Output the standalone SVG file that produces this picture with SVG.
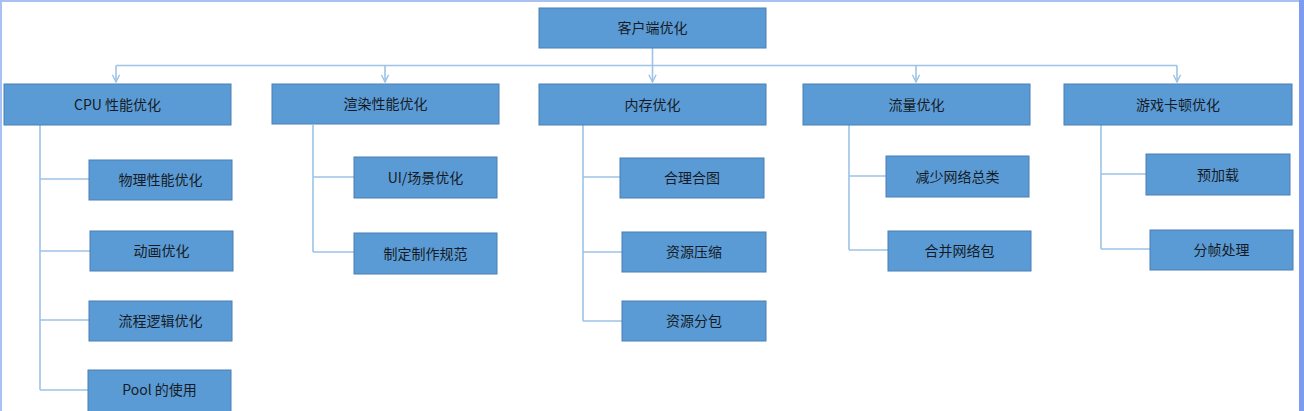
<svg xmlns="http://www.w3.org/2000/svg" width="1304" height="411" viewBox="0 0 1304 411">
<defs>
<style>
.box{fill:#5b9bd5;stroke:#4a7fb5;stroke-width:1}
.lbl{font-family:"Noto Sans CJK SC","Noto Sans",sans-serif;font-size:14px;fill:#151b26;text-anchor:middle;dominant-baseline:central}
.ln{fill:none;stroke:#9dc3e6;stroke-width:1.6}
</style>
<marker id="arr" viewBox="0 0 10 10" refX="9" refY="5" markerWidth="9" markerHeight="9" markerUnits="userSpaceOnUse" orient="auto">
<path d="M1,1 L9,5 L1,9" fill="none" stroke="#9dc3e6" stroke-width="1.6"/>
</marker>
</defs>
<rect x="0" y="0" width="1304" height="411" fill="#ffffff"/>
<g id="frame">
<line x1="0" y1="1" x2="1304" y2="1" stroke="#a9c0f2" stroke-width="2"/>
<line x1="1" y1="0" x2="1" y2="411" stroke="#a9c0f2" stroke-width="2"/>
<rect x="1299" y="0" width="5" height="411" fill="#7c9cf0"/>
</g>
<g id="connectors">
<path class="ln" d="M652.5,48 V82" marker-end="url(#arr)"/>
<path class="ln" d="M116,65.5 H1177"/>
<path class="ln" d="M116,65.5 V82" marker-end="url(#arr)"/>
<path class="ln" d="M385,65.5 V82" marker-end="url(#arr)"/>
<path class="ln" d="M916,65.5 V82" marker-end="url(#arr)"/>
<path class="ln" d="M1177,65.5 V82" marker-end="url(#arr)"/>
<path class="ln" d="M40,125 V390 M40,179 H89 M40,251 H90 M40,320 H89 M40,390 H88"/>
<path class="ln" d="M313,125 V252 M313,177 H354 M313,252 H354"/>
<path class="ln" d="M583,125 V321 M583,177 H620 M583,252 H622 M583,321 H622"/>
<path class="ln" d="M849,125 V250 M849,176 H886 M849,250 H888"/>
<path class="ln" d="M1101,125 V249 M1101,174 H1146 M1101,249 H1150"/>
</g>
<g id="root"><rect class="box" x="539" y="8" width="227" height="40"/><text class="lbl" x="652.5" y="27">客户端优化</text></g>
<g id="cpu"><rect class="box" x="4" y="84" width="227" height="41"/><text class="lbl" x="117.5" y="103.5">CPU 性能优化</text></g>
<g id="render"><rect class="box" x="272" y="84" width="227" height="40"/><text class="lbl" x="385.5" y="103">渲染性能优化</text></g>
<g id="memory"><rect class="box" x="539" y="84" width="227" height="41"/><text class="lbl" x="652.5" y="103.5">内存优化</text></g>
<g id="traffic"><rect class="box" x="803" y="84" width="227" height="41"/><text class="lbl" x="916.5" y="103.5">流量优化</text></g>
<g id="lag"><rect class="box" x="1064" y="84" width="228" height="41"/><text class="lbl" x="1178" y="103.5">游戏卡顿优化</text></g>
<g id="physics"><rect class="box" x="89" y="160" width="143" height="40"/><text class="lbl" x="160.5" y="179">物理性能优化</text></g>
<g id="anim"><rect class="box" x="90" y="231" width="143" height="40"/><text class="lbl" x="161.5" y="250">动画优化</text></g>
<g id="flow"><rect class="box" x="89" y="301" width="143" height="40"/><text class="lbl" x="160.5" y="320">流程逻辑优化</text></g>
<g id="pool"><rect class="box" x="88" y="370" width="143" height="44"/><text class="lbl" x="159.5" y="389">Pool 的使用</text></g>
<g id="ui"><rect class="box" x="354" y="157" width="143" height="41"/><text class="lbl" x="425.5" y="176.5">UI/场景优化</text></g>
<g id="spec"><rect class="box" x="354" y="233" width="143" height="41"/><text class="lbl" x="425.5" y="252.5">制定制作规范</text></g>
<g id="atlas"><rect class="box" x="620" y="158" width="144" height="40"/><text class="lbl" x="692" y="177">合理合图</text></g>
<g id="compress"><rect class="box" x="622" y="232" width="144" height="40"/><text class="lbl" x="694" y="251">资源压缩</text></g>
<g id="bundle"><rect class="box" x="622" y="301" width="144" height="40"/><text class="lbl" x="694" y="320">资源分包</text></g>
<g id="reduce"><rect class="box" x="886" y="156" width="143" height="41"/><text class="lbl" x="957.5" y="175.5">减少网络总类</text></g>
<g id="merge"><rect class="box" x="888" y="231" width="143" height="40"/><text class="lbl" x="959.5" y="250">合并网络包</text></g>
<g id="preload"><rect class="box" x="1146" y="154" width="144" height="41"/><text class="lbl" x="1218" y="173.5">预加载</text></g>
<g id="frames"><rect class="box" x="1150" y="230" width="143" height="40"/><text class="lbl" x="1221.5" y="249">分帧处理</text></g>
</svg>
